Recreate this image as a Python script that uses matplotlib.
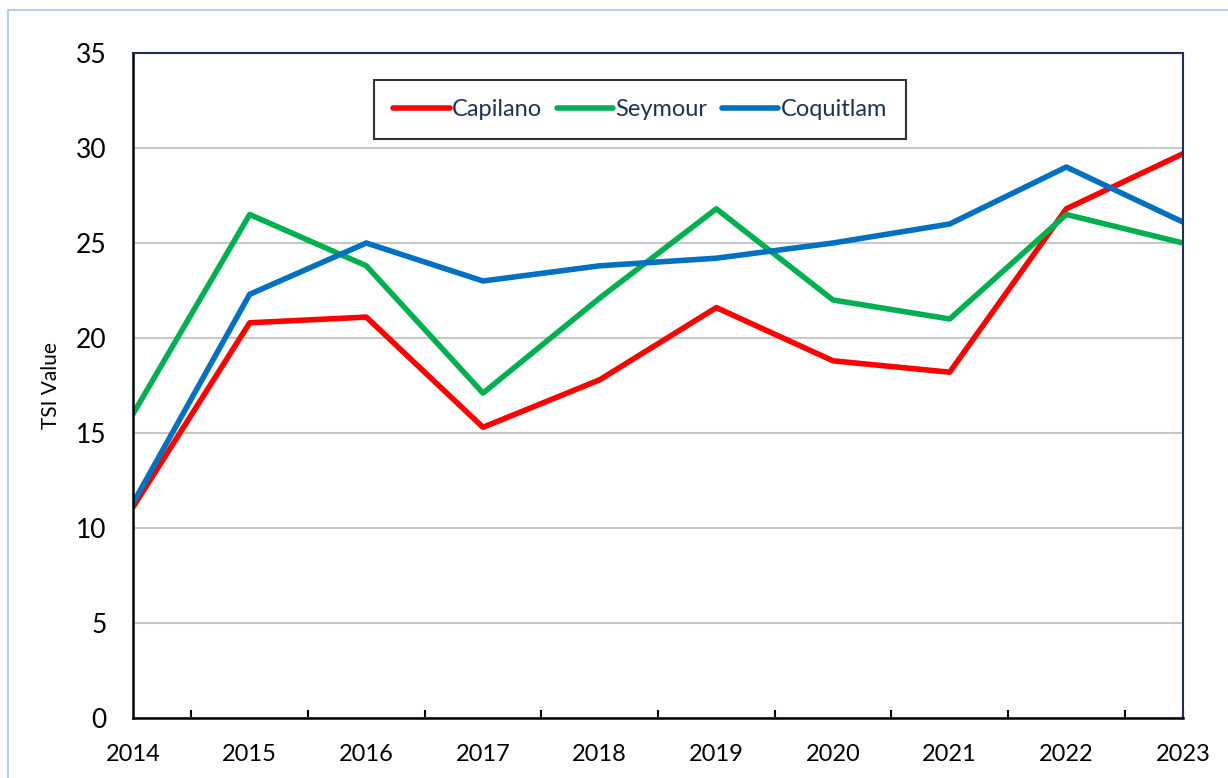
import matplotlib.pyplot as plt
import matplotlib.patches as patches
import numpy as np

years = [2014, 2015, 2016, 2017, 2018, 2019, 2020, 2021, 2022, 2023]
capilano = [11.1, 20.8, 21.1, 15.3, 17.8, 21.6, 18.8, 18.2, 26.8, 29.7]
seymour = [16.0, 26.5, 23.8, 17.1, 22.1, 26.8, 22.0, 21.0, 26.5, 25.0]
coquitlam = [11.3, 22.3, 25.0, 23.0, 23.8, 24.2, 25.0, 26.0, 29.0, 26.1]

plt.rcParams["font.family"] = ["Lato", "DejaVu Sans"]

fig = plt.figure(figsize=(12.28, 7.78), dpi=100)
ax = fig.add_axes([133 / 1228, 60 / 778, 1050 / 1228, 665 / 778])

# light blue outer frame like the chart area border
fig.patches.append(patches.Rectangle((8 / 1228, -0.1), 1.2, 768 / 778 + 0.1,
                                     transform=fig.transFigure, fill=False,
                                     edgecolor="#a9c1ec", linewidth=1.2))

ax.plot(years, capilano, color="#ff0000", lw=4, label="Capilano", solid_capstyle="round")
ax.plot(years, seymour, color="#00b050", lw=4, label="Seymour", solid_capstyle="round")
ax.plot(years, coquitlam, color="#0070c0", lw=4, label="Coquitlam", solid_capstyle="round")

ax.set_xlim(2014, 2023)
ax.set_ylim(0, 35)
ax.set_yticks(np.arange(0, 36, 5))
ax.yaxis.grid(True, color="#c8c8c8", lw=1.5)
ax.set_axisbelow(True)
ax.tick_params(axis="y", length=0, labelsize=19, pad=19)

# ticks between categories, labels on the years
ax.xaxis.remove_overlapping_locs = False
ax.set_xticks([y + 0.5 for y in years[:-1]] + [2023])
ax.set_xticklabels([])
ax.tick_params(axis="x", which="major", length=6, width=1.5, direction="in")
ax.set_xticks(years, minor=True)
ax.set_xticklabels([str(y) for y in years], minor=True)
ax.tick_params(axis="x", which="minor", length=0, labelsize=17, pad=19)

for s in ["left", "bottom"]:
    ax.spines[s].set_color("black")
    ax.spines[s].set_linewidth(1.8)
for s in ["top", "right"]:
    ax.spines[s].set_color("#1f3350")
    ax.spines[s].set_linewidth(1.5)

ax.set_ylabel("TSI Value", fontsize=15, labelpad=11)

leg = ax.legend(loc="upper center", bbox_to_anchor=(0.483, 0.959), ncol=3, fontsize=17,
                frameon=True, fancybox=False, edgecolor="black", handlelength=2.4,
                handletextpad=0.1, columnspacing=0.6, borderpad=0.8, borderaxespad=0)
leg.get_frame().set_linewidth(1.5)
for t in leg.get_texts():
    t.set_color("#1f3350")

fig.savefig("out.png", dpi=100)
